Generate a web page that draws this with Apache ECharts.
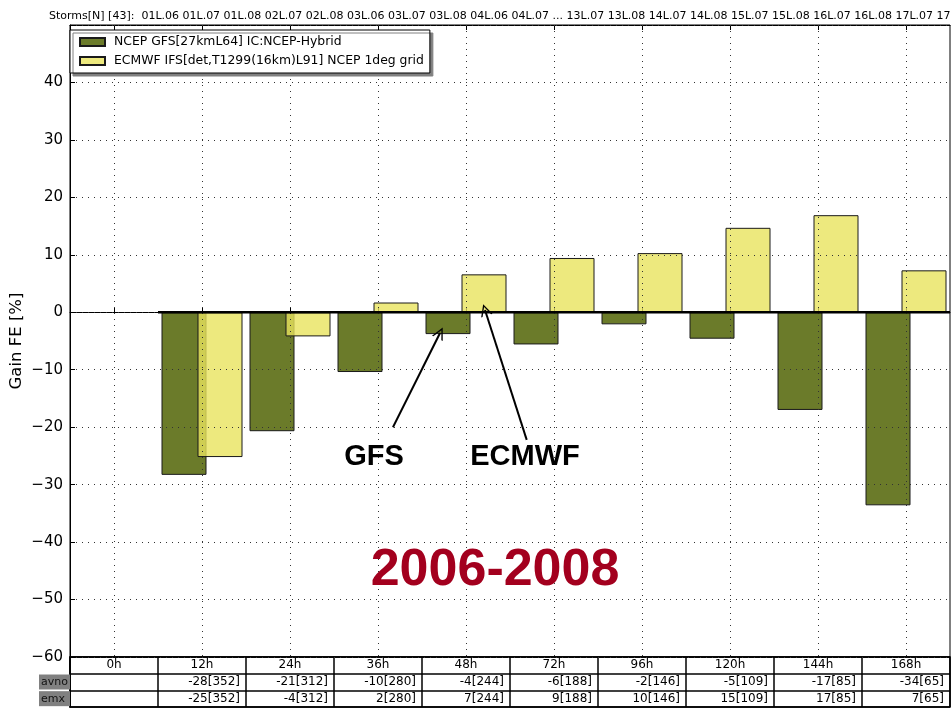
<!DOCTYPE html>
<html>
<head>
<meta charset="utf-8">
<script src="https://cdn.jsdelivr.net/npm/echarts@6/dist/echarts.min.js"></script>
<style>html,body{margin:0;padding:0;background:#fff}#c{width:951px;height:708px}</style>
</head>
<body>
<div id="c"></div>
<script>
// ---- data ----
const categories = ['0h','12h','24h','36h','48h','72h','96h','120h','144h','168h'];
const gfsName = 'NCEP GFS[27kmL64] IC:NCEP-Hybrid';
const ecmName = 'ECMWF IFS[det,T1299(16km)L91] NCEP 1deg grid';
const gfsValues = [null, -28.3, -20.7, -10.4, -3.8, -5.6, -2.1, -4.6, -17.0, -33.6];
const ecmValues = [null, -25.2, -4.2, 1.7, 6.6, 9.45, 10.3, 14.7, 16.9, 7.3];
const sampleCounts = [null, 352, 312, 280, 244, 188, 146, 109, 85, 65];
const tableRows = ['', 'avno', 'emx'];
const yTicks = {min: -60, max: 50, interval: 10};
const titleText = 'Storms[N] [43]:  01L.06 01L.07 01L.08 02L.07 02L.08 03L.06 03L.07 03L.08 04L.06 04L.07 ... 13L.07 13L.08 14L.07 14L.08 15L.07 15L.08 16L.07 16L.08 17L.07 17L.08';
const yAxisName = 'Gain FE [%]';
// annotations (in data units: x = category position 0..10, y = gain)
const annoTexts = ['GFS', 'ECMWF', '2006-2008'];
const annoX = [3.455, 5.17, 4.83];
const annoY = [-25.2, -25.2, -45.0];
const arrowFrom = [[3.67, -20.0], [5.19, -22.2]];
const arrowTo = [[4.205, -3.6], [4.716, 0.4]];
const zeroLine = [[1, 0], [10, 0]];

// ---- build ----
const font = 'DejaVu Sans';
const fmtCell = (v, n) => (v == null ? '' : Math.round(v) + '[' + n + ']');
const tableData = [];
categories.forEach((c, i) => {
  tableData.push({value: [i, 0], label: {formatter: c, position: 'inside'}});
  tableData.push({value: [i, 1], label: {formatter: fmtCell(gfsValues[i], sampleCounts[i])}});
  tableData.push({value: [i, 2], label: {formatter: fmtCell(ecmValues[i], sampleCounts[i])}});
});
const annoData = annoTexts.map((t, i) => ({
  value: [annoX[i], annoY[i]],
  label: i === 2
    ? {formatter: t, color: '#a3001e', fontSize: 52, fontWeight: 'bold', fontFamily: '"Liberation Sans", Arial, sans-serif'}
    : {formatter: t, color: '#000', fontSize: 29, fontWeight: 'bold', fontFamily: '"Liberation Sans", Arial, sans-serif'}
}));
const arrowPath = 'path://M0,0 L7,13 L5.2,13 L0,3.2 L-5.2,13 L-7,13 Z';

const chart = echarts.init(document.getElementById('c'), null, {renderer: 'canvas'});
chart.setOption({
  animation: false,
  backgroundColor: '#fff',
  textStyle: {fontFamily: font},
  title: {text: titleText, left: 44, top: 6, textStyle: {fontSize: 11, fontWeight: 'normal', color: '#000', fontFamily: font}},
  legend: {
    data: [gfsName, ecmName], orient: 'vertical', left: 70, top: 30,
    itemWidth: 25, itemHeight: 8, itemGap: 7, icon: 'rect',
    padding: [6, 6, 6, 9],
    backgroundColor: '#fff', borderColor: '#000', borderWidth: 1,
    shadowColor: '#808080', shadowBlur: 0, shadowOffsetX: 3, shadowOffsetY: 3,
    textStyle: {fontSize: 12.4, color: '#000', fontFamily: font, padding: [0, 0, 0, 4]}
  },
  grid: [
    {left: 70, right: 1, top: 25, bottom: 51, show: true, borderColor: '#000', borderWidth: 1,
     backgroundColor: 'transparent', containLabel: false, outerBoundsMode: 'none'},
    {left: 70, right: 1, top: 657, height: 50, show: true, borderColor: '#000', borderWidth: 1.5,
     containLabel: false, outerBoundsMode: 'none'}
  ],
  xAxis: [
    {type: 'category', gridIndex: 0, data: categories, position: 'bottom',
     axisLine: {show: true, lineStyle: {color: '#000'}}, axisLabel: {show: false},
     axisTick: {show: true, inside: true, alignWithLabel: true, length: 5, interval: 0, lineStyle: {color: '#000'}},
     splitLine: {show: false}},
    {type: 'category', gridIndex: 0, data: categories, position: 'top',
     axisLine: {show: true, lineStyle: {color: '#000'}}, axisLabel: {show: false},
     axisTick: {show: true, inside: true, alignWithLabel: true, length: 5, interval: 0, lineStyle: {color: '#000'}},
     splitLine: {show: false}},
    {type: 'value', gridIndex: 0, min: 0, max: 10, interval: 1, position: 'bottom', z: 3,
     axisLine: {show: false}, axisLabel: {show: false}, axisTick: {show: false},
     splitLine: {show: false},
     minorTick: {show: false, splitNumber: 2},
     minorSplitLine: {show: true, lineStyle: {color: '#333', type: [1, 5], width: 1}}},
    {type: 'category', gridIndex: 1, data: categories, position: 'top',
     axisLine: {show: false}, axisLabel: {show: false}, axisTick: {show: false},
     splitLine: {show: true, interval: 0, lineStyle: {color: '#000', width: 1.5}}}
  ],
  yAxis: [
    {type: 'value', gridIndex: 0, min: yTicks.min, max: yTicks.max, interval: yTicks.interval, z: 3,
     name: yAxisName, nameLocation: 'middle', nameGap: 45, nameRotate: 90, nameMoveOverlap: false,
     nameTextStyle: {fontSize: 16.5, color: '#000', fontFamily: font},
     axisLine: {show: true, lineStyle: {color: '#000'}},
     axisTick: {show: true, inside: true, length: 5, lineStyle: {color: '#000'}},
     axisLabel: {fontSize: 15, color: '#000', margin: 7, showMaxLabel: false,
                 formatter: v => (v < 0 ? '\u2212' + Math.abs(v) : String(v))},
     splitLine: {show: true, lineStyle: {color: '#333', type: [1, 5], width: 1}}},
    {type: 'category', gridIndex: 1, data: tableRows, inverse: true,
     axisLine: {show: true, lineStyle: {color: '#000', width: 1.5}}, axisTick: {show: false},
     axisLabel: {margin: 0, formatter: v => (v ? '{g|' + v + '}' : ''),
                 rich: {g: {backgroundColor: '#808080', color: '#111', fontSize: 11, width: 29, height: 15, padding: [0, 0, 0, 2], align: 'left', fontFamily: font}}},
     splitLine: {show: true, lineStyle: {color: '#000', width: 1.5}}}
  ],
  series: [
    {name: gfsName, type: 'bar', xAxisIndex: 0, yAxisIndex: 0, data: gfsValues,
     barWidth: 45, barGap: '-20%', z: 1,
     itemStyle: {color: '#6b7b2a', borderColor: '#1a1a1a', borderWidth: 1}},
    {name: ecmName, type: 'bar', xAxisIndex: 0, yAxisIndex: 0, data: ecmValues,
     barWidth: 45, z: 1,
     itemStyle: {color: 'rgba(232,227,94,0.8)', borderColor: '#1a1a1a', borderWidth: 1}},
    {type: 'line', xAxisIndex: 2, yAxisIndex: 0, data: zeroLine, symbol: 'none', z: 6,
     lineStyle: {color: '#000', width: 2.7}, silent: true},
    {type: 'lines', coordinateSystem: 'cartesian2d', xAxisIndex: 2, yAxisIndex: 0, z: 6,
     symbol: ['none', arrowPath], symbolSize: [12, 12],
     lineStyle: {color: '#000', width: 2, opacity: 1},
     itemStyle: {color: '#000'},
     data: arrowFrom.map((f, i) => ({coords: [f, arrowTo[i]]}))},
    {type: 'scatter', xAxisIndex: 2, yAxisIndex: 0, z: 7, symbolSize: 1,
     itemStyle: {color: 'rgba(0,0,0,0)', opacity: 1},
     label: {show: true, position: 'inside'},
     data: annoData},
    {type: 'scatter', xAxisIndex: 3, yAxisIndex: 1, z: 7, symbol: 'rect', symbolSize: [86, 15],
     itemStyle: {color: 'rgba(0,0,0,0)', opacity: 1},
     label: {show: true, position: 'insideRight', distance: 5, fontSize: 12, color: '#000', fontFamily: font},
     data: tableData}
  ]
});
</script>
</body>
</html>
